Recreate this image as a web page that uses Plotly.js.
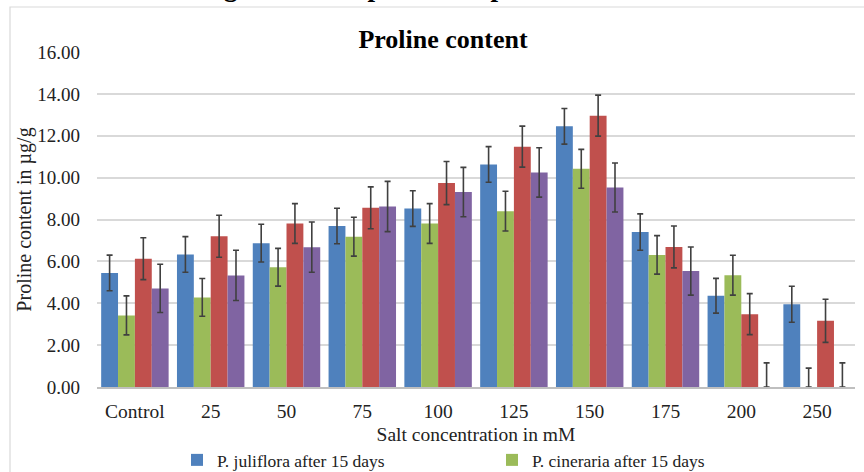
<!DOCTYPE html>
<html>
<head>
<meta charset="utf-8">
<script src="https://cdn.plot.ly/plotly-3.0.1.min.js"></script>
<style>html,body{margin:0;padding:0;background:#fff;overflow:hidden;}#chart{width:864px;height:520px;}</style>
</head>
<body>
<div id="chart"></div>
<script>
var categories = ["Control", "25", "50", "75", "100", "125", "150", "175", "200", "250"];
var seriesNames = ["P. juliflora after 15 days", "P. cineraria after 15 days", "P. juliflora after 30 days", "P. cineraria after 30 days"];
var legendShown = [true, true, false, false];
var juliflora15 = [5.45, 6.33, 6.87, 7.69, 8.52, 10.63, 12.45, 7.40, 4.36, 3.95];
var juliflora15Err = [0.85, 0.85, 0.90, 0.85, 0.85, 0.85, 0.85, 0.87, 0.83, 0.86];
var cineraria15 = [3.42, 4.28, 5.72, 7.18, 7.81, 8.40, 10.42, 6.31, 5.34, 0];
var cineraria15Err = [0.93, 0.90, 0.90, 0.93, 0.95, 0.95, 0.93, 0.92, 0.95, 0.90];
var juliflora30 = [6.13, 7.20, 7.81, 8.56, 9.74, 11.48, 12.96, 6.69, 3.48, 3.16];
var juliflora30Err = [1.00, 1.00, 0.95, 1.00, 1.03, 0.98, 0.98, 1.00, 0.98, 1.03];
var cineraria30 = [4.71, 5.33, 6.68, 8.62, 9.31, 10.25, 9.53, 5.54, 0, 0];
var cineraria30Err = [1.15, 1.20, 1.20, 1.20, 1.18, 1.18, 1.17, 1.15, 1.15, 1.15];
var colors = ["#4F81BD", "#9BBB59", "#C0504D", "#8064A2"];
var yTicks = [0, 2, 4, 6, 8, 10, 12, 14, 16];

var values = [juliflora15, cineraria15, juliflora30, cineraria30];
var errs = [juliflora15Err, cineraria15Err, juliflora30Err, cineraria30Err];

var traces = values.map(function(v, i) {
  return {
    type: "bar",
    name: seriesNames[i],
    showlegend: legendShown[i],
    x: categories,
    y: v,
    marker: {color: colors[i]},
    error_y: {
      type: "data",
      symmetric: false,
      array: errs[i],
      arrayminus: v.map(function(val, j) { return val === 0 ? 0 : errs[i][j]; }),
      color: "#404040",
      thickness: 1.6,
      width: 3
    },
    hoverinfo: "x+y+name"
  };
});

var serif = "Liberation Serif, Times New Roman, serif";
var H = 520, T = 52, B = H - 387, PH = 387 - T;
function py(pix) { return (387 - pix) / PH; }
function px(pix) { return (pix - 97) / 758; }

var layout = {
  width: 864,
  height: H,
  margin: {l: 97, r: 9, t: T, b: B},
  paper_bgcolor: "#ffffff",
  plot_bgcolor: "#ffffff",
  barmode: "group",
  bargap: 0.11,
  bargroupgap: 0,
  font: {family: serif, color: "#000000", size: 19},
  title: {
    text: "<b>Proline content</b>",
    font: {family: serif, size: 26, color: "#000000"},
    x: 443 / 864, xanchor: "center", xref: "container",
    y: 1 - 39 / H, yanchor: "middle", yref: "container"
  },
  xaxis: {
    type: "category",
    range: [-0.5, 9.5],
    showgrid: false,
    showline: true,
    linecolor: "#BFBFBF",
    linewidth: 1.5,
    ticks: "",
    ticklabelstandoff: 6,
    tickfont: {family: serif, size: 19.5, color: "#222"},
    title: {text: "Salt concentration in mM", font: {family: serif, size: 19.5, color: "#222"}, standoff: 6},
    fixedrange: true
  },
  yaxis: {
    range: [0, 16],
    tickvals: yTicks,
    ticktext: yTicks.map(function(t) { return t.toFixed(2); }),
    showgrid: true,
    gridcolor: "#D9D9D9",
    gridwidth: 1.5,
    zeroline: false,
    showline: false,
    ticks: "",
    ticklabelstandoff: 16,
    tickfont: {family: serif, size: 19, color: "#222"},
    title: {text: "Proline content in µg/g", font: {family: serif, size: 20, color: "#222"}, standoff: 0},
    fixedrange: true
  },
  showlegend: true,
  legend: {
    orientation: "h",
    x: px(177), xanchor: "left",
    y: py(442), yanchor: "top",
    entrywidth: 270, entrywidthmode: "pixels",
    itemwidth: 30,
    tracegroupgap: 0,
    font: {family: serif, size: 17.5, color: "#222"},
    bgcolor: "rgba(0,0,0,0)",
    traceorder: "normal"
  },
  shapes: [{
    type: "rect", xref: "paper", yref: "paper",
    x0: px(10), x1: px(880),
    y0: py(510), y1: py(7),
    line: {color: "#D9D9D9", width: 1.2},
    fillcolor: "rgba(0,0,0,0)",
    layer: "below"
  }],
  annotations: [{
    text: "<b>Figure 5: Comparison of proline contents</b>",
    xref: "paper", yref: "paper",
    x: px(437), xanchor: "center",
    y: py(4), yanchor: "bottom",
    showarrow: false,
    font: {family: serif, size: 27, color: "#000000"}
  }]
};

Plotly.newPlot("chart", traces, layout, {displayModeBar: false});
</script>
</body>
</html>
